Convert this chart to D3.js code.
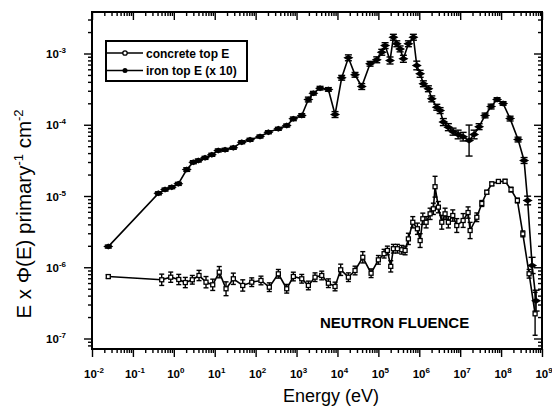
<!DOCTYPE html>
<html><head><meta charset="utf-8">
<script src="https://cdn.jsdelivr.net/npm/d3@7"></script>
<style>body{margin:0;background:#fff} svg{display:block} text{font-family:Arial,"Liberation Sans",sans-serif;fill:#000}</style>
</head><body><svg id="c" width="552" height="410"></svg>
<script>
// ---- data ----
const ironE=[0.025,0.42,0.61,0.89,1.29,2.07,3.0,3.97,5.8,8.5,12.2,17.9,28.5,45.7,73,128,205,359,575,835,1340,1945,2580,3760,6000,8730,12700,18500,26900,39200,62700,91400,1.21e5,1.46e5,1.93e5,2.33e5,2.82e5,3.4e5,4.09e5,5.42e5,7.18e5,8.69e5,1.05e6,1.26e6,1.67e6,2.02e6,2.68e6,3.23e6,3.88e6,5.14e6,6.7e6,8.9e6,1.18e7,1.65e7,2.19e7,2.9e7,4.06e7,5.7e7,7.98e7,1.12e8,1.66e8,2.6e8,3.65e8,4.45e8,5.73e8,7.18e8];
const ironV=[1.95e-6,1.09e-5,1.23e-5,1.33e-5,1.48e-5,2.35e-5,2.98e-5,3.15e-5,3.43e-5,3.79e-5,4.36e-5,4.45e-5,4.75e-5,5.69e-5,6.15e-5,6.84e-5,7.85e-5,8.77e-5,9.75e-5,1.21e-4,1.35e-4,2.26e-4,2.77e-4,3.26e-4,3.13e-4,1.39e-4,4.56e-4,8.7e-4,5.02e-4,3.44e-4,7.17e-4,8.16e-4,1.04e-3,1.29e-3,7.98e-4,1.69e-3,1.37e-3,1.16e-3,8.43e-4,1.37e-3,1.69e-3,6.79e-4,5.19e-4,3.76e-4,3.2e-4,2.31e-4,1.76e-4,1.58e-4,1.09e-4,9.25e-5,8.0e-5,7.3e-5,6.8e-5,6.0e-5,7.3e-5,9.4e-5,1.35e-4,1.8e-4,2.26e-4,1.99e-4,1.22e-4,6.2e-5,3.15e-5,8.65e-6,1.06e-6,3.4e-7];
const ironErr=[0.05,0.05,0.05,0.05,0.05,0.06,0.05,0.05,0.05,0.05,0.05,0.05,0.05,0.05,0.05,0.05,0.05,0.05,0.05,0.06,0.06,0.08,0.06,0.06,0.06,0.1,0.08,0.1,0.08,0.1,0.08,0.1,0.1,0.1,0.12,0.1,0.1,0.1,0.12,0.1,0.1,0.15,0.12,0.1,0.1,0.1,0.1,0.1,0.12,0.12,0.12,0.15,0.15,0.65,0.15,0.1,0.08,0.08,0.06,0.06,0.08,0.08,0.1,0.15,0.3,0.4];
const concE=[0.025,0.506,0.84,1.32,1.91,2.83,4.13,6.12,8.93,12.9,18.9,28.5,48.4,80.3,135,216,359,575,835,1340,1945,2830,4130,6000,8730,12000,18500,26900,41600,66400,1.0e5,1.38e5,1.66e5,2.01e5,2.33e5,2.92e5,3.73e5,4.5e5,5.42e5,6.94e5,9.0e5,1.05e6,1.22e6,1.47e6,1.84e6,2.21e6,2.43e6,2.93e6,3.55e6,4.27e6,5.14e6,6.59e6,8.26e6,1.18e7,1.56e7,1.75e7,2.55e7,3.38e7,4.47e7,5.93e7,8.6e7,1.25e8,1.75e8,2.5e8,3.4e8,4.84e8,6.78e8];
const concV=[7.4e-7,6.67e-7,7.25e-7,6.73e-7,6.1e-7,6.67e-7,7.66e-7,6.17e-7,5.67e-7,8.53e-7,4.99e-7,6.89e-7,5.55e-7,6.17e-7,6.52e-7,5.25e-7,8.09e-7,4.99e-7,7.41e-7,6.89e-7,5.55e-7,7.25e-7,7.66e-7,5.97e-7,5.37e-7,9.21e-7,7.25e-7,9.0e-7,1.38e-6,8.24e-7,1.27e-6,1.55e-6,1.72e-6,1.03e-6,1.82e-6,1.82e-6,1.76e-6,1.72e-6,2.5e-6,4.28e-6,3.47e-6,2.37e-6,4.79e-6,4.28e-6,5.62e-6,6.61e-6,1.35e-5,6.97e-6,4.28e-6,5.62e-6,4.28e-6,5.32e-6,3.85e-6,4.53e-6,5.86e-6,3.28e-6,5.03e-6,7.85e-6,1.13e-5,1.48e-5,1.6e-5,1.61e-5,1.23e-5,8.65e-6,2.94e-6,8.1e-7,2.22e-7];
const concErr=[0.06,0.2,0.18,0.18,0.18,0.15,0.18,0.2,0.2,0.2,0.25,0.2,0.2,0.15,0.15,0.15,0.15,0.15,0.15,0.15,0.15,0.15,0.15,0.15,0.15,0.2,0.15,0.15,0.2,0.15,0.15,0.15,0.15,0.2,0.15,0.15,0.15,0.15,0.2,0.2,0.2,0.25,0.2,0.2,0.2,0.2,0.4,0.2,0.25,0.2,0.2,0.2,0.25,0.25,0.2,0.3,0.15,0.1,0.06,0.06,0.06,0.06,0.08,0.08,0.1,0.15,1.0];
const xTickExp=[-2,-1,0,1,2,3,4,5,6,7,8,9];
const yTickExp=[-7,-6,-5,-4,-3];
const legendLabels=["concrete top E","iron top E (x 10)"];
const annotation="NEUTRON FLUENCE";
const xTitle="Energy (eV)";

// ---- layout ----
const svg=d3.select("#c");
const L=92,R=542,T=12,B=349;
const x=d3.scaleLog().domain([1e-2,1e9]).range([L,R]);
const yRef=d3.scaleLog().domain([1e-7,1e-3]).range([338.5,53.5]);
const y=d3.scaleLog().domain([yRef.invert(B),yRef.invert(T)]).range([B,T]);

function minors(lo,hi){const m=[];for(let e=Math.floor(Math.log10(lo));e<=Math.ceil(Math.log10(hi));e++){for(let k=2;k<=9;k++){const v=k*Math.pow(10,e);if(v>=lo*0.999&&v<=hi*1.001)m.push(v);}}return m;}
const xMaj=xTickExp.map(e=>Math.pow(10,e));
const yMaj=yTickExp.map(e=>Math.pow(10,e));
const xMin=minors(1e-2,1e9);
const yMin=minors(y.domain()[0],y.domain()[1]);

function ax(gen,tr,vals,size){
  const g=svg.append("g").attr("transform",tr).call(gen.tickValues(vals).tickSize(size).tickFormat(()=>""));
  g.select(".domain").remove();
  g.selectAll("line").attr("stroke","#000").attr("stroke-width",1.4);
  g.selectAll("text").remove();
  return g;
}
ax(d3.axisBottom(x),`translate(0,${B})`,xMaj,8);
ax(d3.axisBottom(x),`translate(0,${B})`,xMin,4);
ax(d3.axisTop(x),`translate(0,${T})`,xMaj,-8);
ax(d3.axisTop(x),`translate(0,${T})`,xMin,-4);
ax(d3.axisLeft(y),`translate(${L},0)`,yMaj,8);
ax(d3.axisLeft(y),`translate(${L},0)`,yMin,4);
ax(d3.axisRight(y),`translate(${R},0)`,yMaj,-8);
ax(d3.axisRight(y),`translate(${R},0)`,yMin,-4);
svg.append("rect").attr("x",L).attr("y",T).attr("width",R-L).attr("height",B-T)
  .attr("fill","none").attr("stroke","#000").attr("stroke-width",2);

// tick labels
xMaj.forEach((v,i)=>{
  const t=svg.append("text").attr("x",x(v)+2).attr("y",378).attr("text-anchor","middle")
    .attr("font-size",11.5).attr("font-weight","bold");
  t.append("tspan").text("10");
  t.append("tspan").attr("dy",-5).attr("font-size",8).text(xTickExp[i]);
});
yMaj.forEach((v,i)=>{
  const t=svg.append("text").attr("x",66).attr("y",y(v)+4.5).attr("text-anchor","end")
    .attr("font-size",11.5).attr("font-weight","bold");
  t.append("tspan").text("10");
  t.append("tspan").attr("dy",-5).attr("font-size",8).text(yTickExp[i]);
});

// titles
svg.append("text").attr("x",331).attr("y",402).attr("text-anchor","middle")
  .attr("font-size",18).text(xTitle);
const yt=svg.append("text").attr("transform","translate(31,214) rotate(-90)").attr("text-anchor","middle").attr("font-size",20.5);
yt.append("tspan").text("E x Φ(E) primary");
yt.append("tspan").attr("dy",-8).attr("font-size",13).text("-1");
yt.append("tspan").attr("dy",8).text(" cm");
yt.append("tspan").attr("dy",-8).attr("font-size",13).text("-2");

svg.append("text").attr("x",320).attr("y",328).attr("font-size",15).attr("font-weight","bold").text(annotation);

// ---- series ----
const iron=ironE.map((e,i)=>({e,v:ironV[i],err:ironErr[i]}));
const conc=concE.map((e,i)=>({e,v:concV[i],err:concErr[i]}));
const line=d3.line().x(d=>x(d.e)).y(d=>y(d.v));
const gPlot=svg.append("g");
[conc,iron].forEach(s=>gPlot.append("path").datum(s).attr("d",line).attr("fill","none").attr("stroke","#000").attr("stroke-width",1.6));

function errbars(s,cap){
  const g=gPlot.append("g").attr("stroke","#000").attr("stroke-width",1.4);
  s.forEach(d=>{
    const cx=x(d.e),hi=y(d.v*(1+d.err)),lo=y(d.v/(1+d.err));
    g.append("line").attr("x1",cx).attr("x2",cx).attr("y1",hi).attr("y2",lo);
    g.append("line").attr("x1",cx-cap).attr("x2",cx+cap).attr("y1",hi).attr("y2",hi);
    g.append("line").attr("x1",cx-cap).attr("x2",cx+cap).attr("y1",lo).attr("y2",lo);
  });
}
errbars(conc,2.5);
errbars(iron,3.5);
gPlot.append("g").selectAll("rect").data(conc).join("rect")
  .attr("x",d=>x(d.e)-2).attr("y",d=>y(d.v)-2).attr("width",4).attr("height",4)
  .attr("fill","#fff").attr("stroke","#000").attr("stroke-width",1.3);
gPlot.append("g").selectAll("path").data(iron).join("path")
  .attr("d",d=>{const cx=x(d.e),cy=y(d.v);return `M${cx-5},${cy}L${cx},${cy-3}L${cx+5},${cy}L${cx},${cy+3}Z`;})
  .attr("fill","#000");

// ---- legend ----
const lg=svg.append("g");
lg.append("rect").attr("x",106).attr("y",41).attr("width",141).attr("height",40)
  .attr("fill","#fff").attr("stroke","#000").attr("stroke-width",2);
[0,1].forEach(i=>{
  const ly=53+i*17.5;
  lg.append("line").attr("x1",107).attr("x2",143).attr("y1",ly).attr("y2",ly).attr("stroke","#000").attr("stroke-width",1.5);
  if(i===0) lg.append("circle").attr("cx",125).attr("cy",ly).attr("r",2.2).attr("fill","#fff").attr("stroke","#000").attr("stroke-width",1.3);
  else lg.append("circle").attr("cx",125).attr("cy",ly).attr("r",2.5).attr("fill","#000");
  lg.append("text").attr("x",146).attr("y",ly+4.5).attr("font-size",12).attr("font-weight","bold").text(legendLabels[i]);
});
</script></body></html>
